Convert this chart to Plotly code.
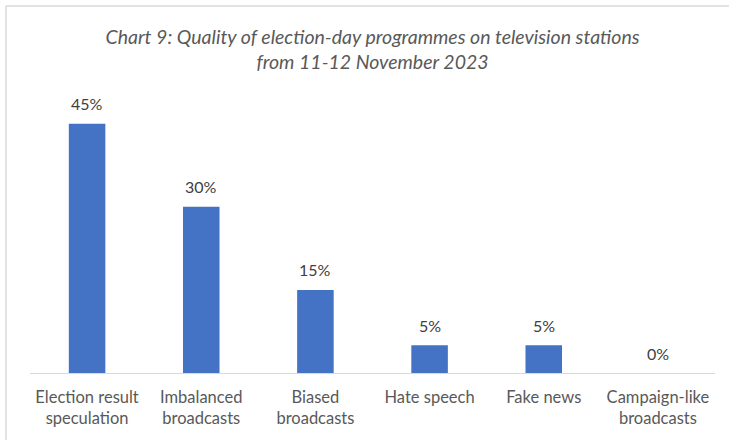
import plotly.graph_objects as go

categories = [
    "Election result<br>speculation",
    "Imbalanced<br>broadcasts",
    "Biased<br>broadcasts",
    "Hate speech",
    "Fake news",
    "Campaign-like<br>broadcasts",
]
shares = [45, 30, 15, 5, 5, 0]

title_text = ("Chart 9: Quality of election-day programmes on television stations"
              "<br>from 11-12 November 2023")

FONT = "Lato, 'Open Sans', sans-serif"
TEXT_GREY = "#595959"
BORDER = "#d9d9d9"

fig = go.Figure(
    go.Bar(
        x=categories,
        y=shares,
        marker=dict(color="#4472c4", line=dict(width=0)),
        width=0.32,
        hoverinfo="x+y",
        cliponaxis=False,
    )
)

# value labels above each bar
for cat, val in zip(categories, shares):
    fig.add_annotation(
        x=cat, y=val, text=f"{val}%", showarrow=False,
        yanchor="middle", yshift=20,
        font=dict(family=FONT, size=16, color="#404040"),
    )

L, R, T, B = 30, 14, 96, 67
W, H = 729, 440
pw, ph = W - L - R, H - T - B

def px_x(x):
    return (x - L) / pw

def px_y(y):
    return (H - B - y) / ph

# light frame around the chart (left and top edges visible)
fig.add_shape(type="line", xref="paper", yref="paper",
              x0=px_x(6), x1=px_x(6), y0=px_y(450), y1=px_y(6),
              line=dict(color=BORDER, width=1.5))
fig.add_shape(type="line", xref="paper", yref="paper",
              x0=px_x(6), x1=px_x(740), y0=px_y(6), y1=px_y(6),
              line=dict(color=BORDER, width=1.5))

fig.update_layout(
    width=W, height=H,
    margin=dict(l=L, r=R, t=T, b=B),
    paper_bgcolor="white",
    plot_bgcolor="white",
    showlegend=False,
    title=dict(
        text=title_text,
        x=0.5, xref="paper", xanchor="center",
        y=1 - 44 / H, yanchor="middle",
        font=dict(family=FONT, size=19.5, color=TEXT_GREY, style="italic"),
    ),
    xaxis=dict(
        showgrid=False, showline=True, linecolor=BORDER, linewidth=1,
        ticks="", ticklabelstandoff=9,
        tickfont=dict(family=FONT, size=16.5, color=TEXT_GREY),
    ),
    yaxis=dict(range=[0, 50], visible=False),
    bargap=0.68,
)

fig.write_html("out.html")
